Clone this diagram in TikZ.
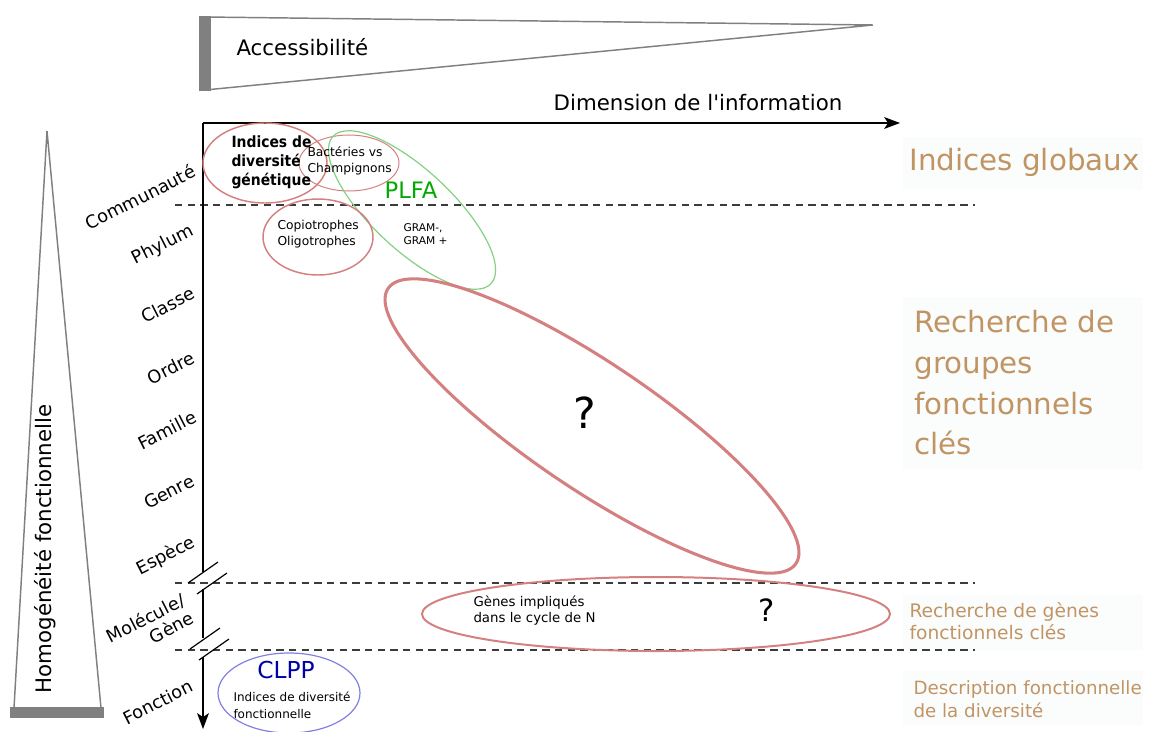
\documentclass[tikz,border=0pt]{standalone}
\usepackage{fontspec}
\setmainfont{DejaVu Sans}[Ligatures=TeXOff]
\newfontfamily\etroite{DejaVu Sans Condensed}
\tikzset{every picture/.style={line width=0.75pt}}
\tikzset{
  lvl/.style={inner sep=0.75pt, rotate=27, font=\fontsize{13.3}{15}\selectfont},
  legende/.style={anchor=west, inner sep=0.75pt, align=left, color={rgb, 255:red, 193; green, 148; blue, 100 }},
  fond/.style={fill={rgb, 255:red, 251; green, 253; blue, 253 }, draw opacity=0},
  palier/.style={dash pattern={on 5.5pt off 4pt}, color={rgb, 255:red, 60; green, 60; blue, 60 }, line width=0.8},
}

\begin{document}
\begin{tikzpicture}[x=0.75pt,y=0.75pt,yscale=-1,xscale=1]
\useasboundingbox (0,0) rectangle (1151,731);

%fonds des legendes
\draw [fond] (903,137) rectangle (1143,190);
\draw [fond] (903,297) rectangle (1143,470);
\draw [fond] (903,595) rectangle (1143,650);
\draw [fond] (903,671) rectangle (1143,725);

%accessibilite
\draw [color={rgb, 255:red, 128; green, 128; blue, 128 }, line width=1.1] (205,17) -- (873,25) -- (205,90);
\fill [color={rgb, 255:red, 128; green, 128; blue, 128 }] (199,16) rectangle (211,91);
\draw (235,47) node [anchor=west][inner sep=0.75pt] [font=\fontsize{16}{19}\selectfont] (acc) {Accessibilité};

%homogeneite
\draw [color={rgb, 255:red, 128; green, 128; blue, 128 }, line width=1.1] (14,708) -- (47,131) -- (101,708);
\fill [color={rgb, 255:red, 128; green, 128; blue, 128 }] (10,707) rectangle (104,718);
\draw (45,549) node [rotate=90][inner sep=0.75pt] [font=\fontsize{16}{19}\selectfont] (homog) {Homogénéité fonctionnelle};

%paliers
\draw [palier] (175,205) -- (975,205);
\draw [palier] (175,583) -- (975,583);
\draw [palier] (175,650) -- (975,650);

%axes
\draw [line width=1.1] (203,123) -- (890,123);
\draw [shift={(900,123)}, rotate=180] [fill={rgb, 255:red, 0; green, 0; blue, 0 }][line width=0.08] [draw opacity=0] (16,-6) -- (0,0) -- (16,6) -- (12,0) -- cycle;
\draw (698,103) node [inner sep=0.75pt] [font=\fontsize{16}{19}\selectfont] (dim) {Dimension de l'information};
\draw [line width=1.1] (203,123) -- (203,572);
\draw [line width=1.1] (203,589) -- (203,638);
\draw [line width=1.1] (203,657) -- (203,718);
\draw [shift={(203,729)}, rotate=270] [fill={rgb, 255:red, 0; green, 0; blue, 0 }][line width=0.08] [draw opacity=0] (16,-6) -- (0,0) -- (16,6) -- (12,0) -- cycle;
\draw [line width=0.9] (188,583) -- (218,562);
\draw [line width=0.9] (197,594) -- (227,573);
\draw [line width=0.9] (190,649) -- (220,628);
\draw [line width=0.9] (199,660) -- (229,639);

%niveaux
\draw (140,197) node [lvl] (comm) {Communauté};
\draw (163,245) node [lvl] (phyl) {Phylum};
\draw (168,305) node [lvl] (clas) {Classe};
\draw (171,368) node [lvl] (ordr) {Ordre};
\draw (167,430) node [lvl] (fami) {Famille};
\draw (169,492) node [lvl] (genr) {Genre};
\draw (166,556) node [lvl] (espe) {Espèce};
\draw (150,627) node [lvl, align=right] (mole) {Molécule/\\Gène};
\draw (158,702) node [lvl] (fonc) {Fonction};

%ellipses
\draw [color={rgb, 255:red, 213; green, 128; blue, 128 }, line width=1.1] (265,163) ellipse [x radius=62, y radius=40];
\draw [color={rgb, 255:red, 213; green, 128; blue, 128 }, line width=0.75] (349,163) ellipse [x radius=50, y radius=28];
\draw [color={rgb, 255:red, 130; green, 210; blue, 130 }, line width=0.9, rotate around={43:(412,210)}] (412,210) ellipse [x radius=108, y radius=40];
\draw [color={rgb, 255:red, 213; green, 128; blue, 128 }, line width=1.1] (318,237) ellipse [x radius=55, y radius=38];
\draw [color={rgb, 255:red, 213; green, 128; blue, 128 }, line width=2.3, rotate around={34:(592,426)}] (592,426) ellipse [x radius=246, y radius=63];
\draw [color={rgb, 255:red, 213; green, 128; blue, 128 }, line width=1.5] (656,614) ellipse [x radius=234, y radius=37];
\draw [color={rgb, 255:red, 128; green, 128; blue, 224 }, line width=0.9] (289,693) ellipse [x radius=71, y radius=40];

%textes des ellipses
\draw (230,162) node [anchor=west][inner sep=0.75pt] [font=\etroite\fontsize{11.6}{14.2}\selectfont\bfseries, align=left] (gen) {Indices de\\diversité\\génétique};
\draw (306,161) node [anchor=west][inner sep=0.75pt] [font=\fontsize{9.2}{12}\selectfont, align=left] (bact) {Bactéries vs\\Champignons};
\draw (411,190) node [inner sep=0.75pt] [font=\fontsize{17}{20}\selectfont, color={rgb, 255:red, 0; green, 170; blue, 0 }] (plfa) {PLFA};
\draw (402,234) node [anchor=west][inner sep=0.75pt] [font=\fontsize{8}{10}\selectfont, align=left] (gram) {GRAM-,\\ GRAM +};
\draw (276,234) node [anchor=west][inner sep=0.75pt] [font=\fontsize{9.2}{12}\selectfont, align=left] (copi) {Copiotrophes\\Oligotrophes};
\draw (585,413) node [inner sep=0.75pt] [font=\fontsize{32}{36}\selectfont] (q1) {?};
\draw (472,611) node [anchor=west][inner sep=0.75pt] [font=\fontsize{10}{12}\selectfont, align=left] (gene) {Gènes impliqués\\dans le cycle de N};
\draw (767,610) node [inner sep=0.75pt] [font=\fontsize{23}{26}\selectfont] (q2) {?};
\draw (286,670) node [inner sep=0.75pt] [font=\fontsize{17.5}{20}\selectfont, color={rgb, 255:red, 0; green, 0; blue, 170 }] (clpp) {CLPP};
\draw (232,705) node [anchor=west][inner sep=0.75pt] [font=\fontsize{9}{12.7}\selectfont, align=left] (fdiv) {Indices de diversité\\fonctionnelle};

%legendes
\draw (908,162) node [legende] [font=\fontsize{22}{26}\selectfont] (glob) {Indices globaux};
\draw (913,383) node [legende] [font=\fontsize{22}{30.5}\selectfont] (grp) {Recherche de\\groupes\\fonctionnels\\clés};
\draw (908,621) node [legende] [font=\fontsize{14}{17}\selectfont] (gcle) {Recherche de gènes\\fonctionnels clés};
\draw (912,699) node [legende] [font=\fontsize{13.7}{17}\selectfont] (desc) {Description fonctionnelle\\de la diversité};

\end{tikzpicture}
\end{document}
